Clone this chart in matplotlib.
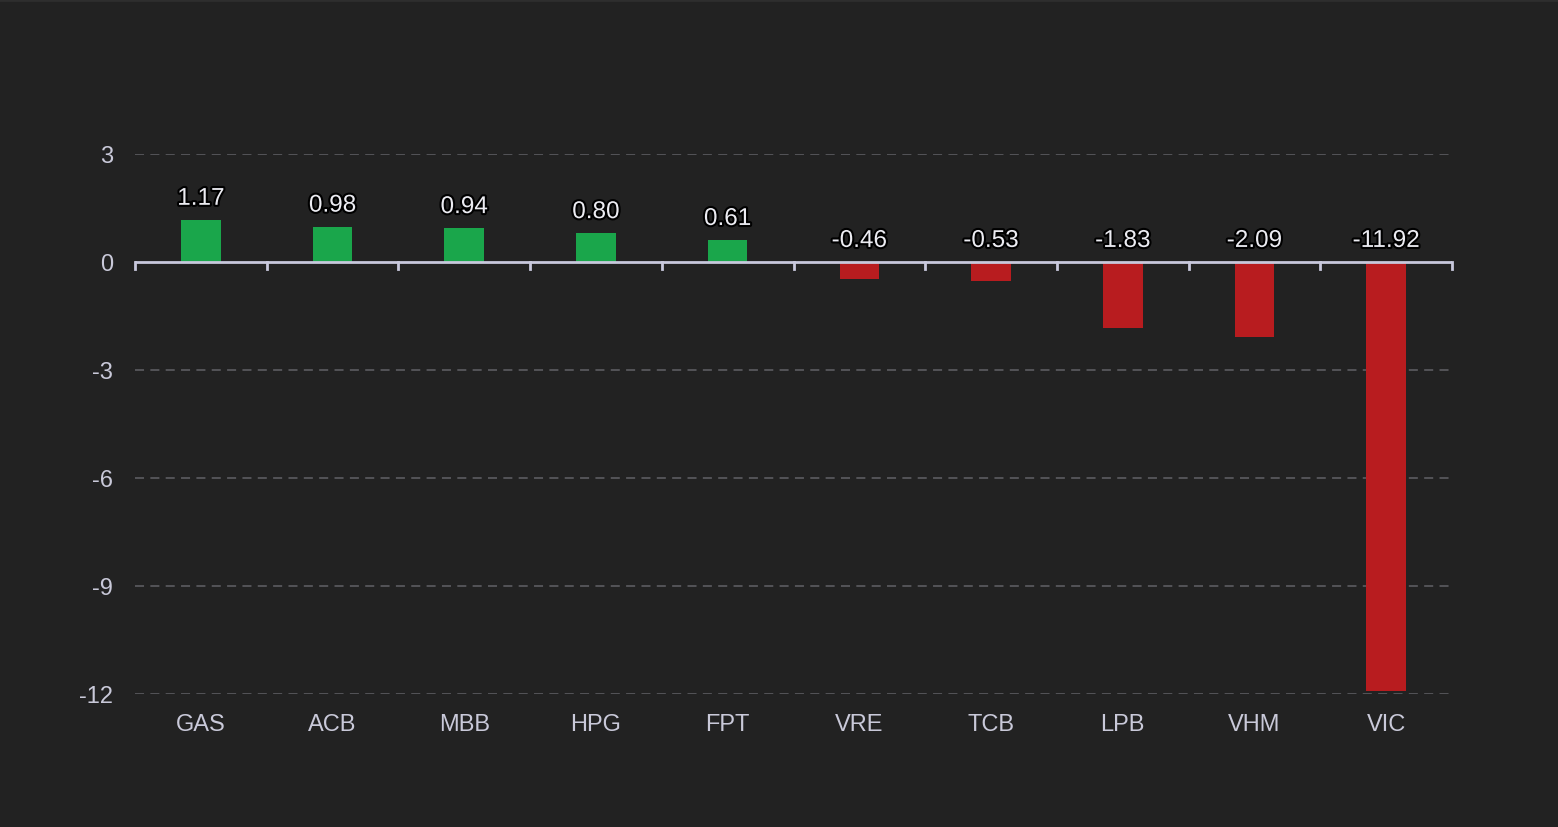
import matplotlib.pyplot as plt
import matplotlib.patheffects as pe

# Dữ liệu
tickers = ['GAS', 'ACB', 'MBB', 'HPG', 'FPT', 'VRE', 'TCB', 'LPB', 'VHM', 'VIC']
values = [1.17, 0.98, 0.94, 0.80, 0.61, -0.46, -0.53, -1.83, -2.09, -11.92]
y_ticks = [3, 0, -3, -6, -9, -12]

bg = '#222222'
txt = '#c9c9d9'
green = '#1aa64b'
red = '#b81c1f'

plt.rcParams['font.family'] = ['Liberation Sans', 'DejaVu Sans']

fig = plt.figure(figsize=(15.58, 8.28), dpi=100, facecolor=bg)
ax = fig.add_axes([135 / 1558, 133 / 828, (1452 - 135) / 1558, (695 - 155) / 828])
ax.set_facecolor(bg)

# viền trên sáng hơn
fig.add_artist(plt.Line2D([0, 1], [0.999, 0.999], transform=fig.transFigure,
                          color='#2e2e2e', linewidth=2))

x = list(range(len(tickers)))
colors = [green if v >= 0 else red for v in values]
ax.bar(x, values, width=0.3, color=colors, zorder=3)

ax.set_xlim(-0.5, len(tickers) - 0.5)
ax.set_ylim(-12, 3)

# lưới ngang
for t in y_ticks:
    if t != 0:
        ax.axhline(t, color='#58585c', linestyle=(0, (5, 3.5)), linewidth=1.3, zorder=1)
ax.axhline(0, color='#c8c8dc', linewidth=2, zorder=4)

# vạch chia giữa các mã
for b in [i - 0.5 for i in range(len(tickers) + 1)]:
    ax.plot([b, b], [0, -0.2], color='#c8c8dc', linewidth=2, zorder=4, clip_on=False)

for s in ax.spines.values():
    s.set_visible(False)

ax.set_yticks(y_ticks)
ax.set_yticklabels([str(t) for t in y_ticks])
ax.set_xticks(x)
ax.set_xticklabels(tickers)
ax.tick_params(axis='both', length=0, colors=txt, labelsize=17)
ax.tick_params(axis='x', pad=14)
ax.tick_params(axis='y', pad=16)

# nhãn giá trị
for i, v in enumerate(values):
    yv = v if v > 0 else 0
    ax.text(i, yv + 0.28, f'{v:.2f}', ha='center', va='bottom', fontsize=17.5,
            color='#ececf2', zorder=5,
            path_effects=[pe.withStroke(linewidth=3, foreground='#000000')])

plt.savefig('out.png', dpi=100, facecolor=bg)
